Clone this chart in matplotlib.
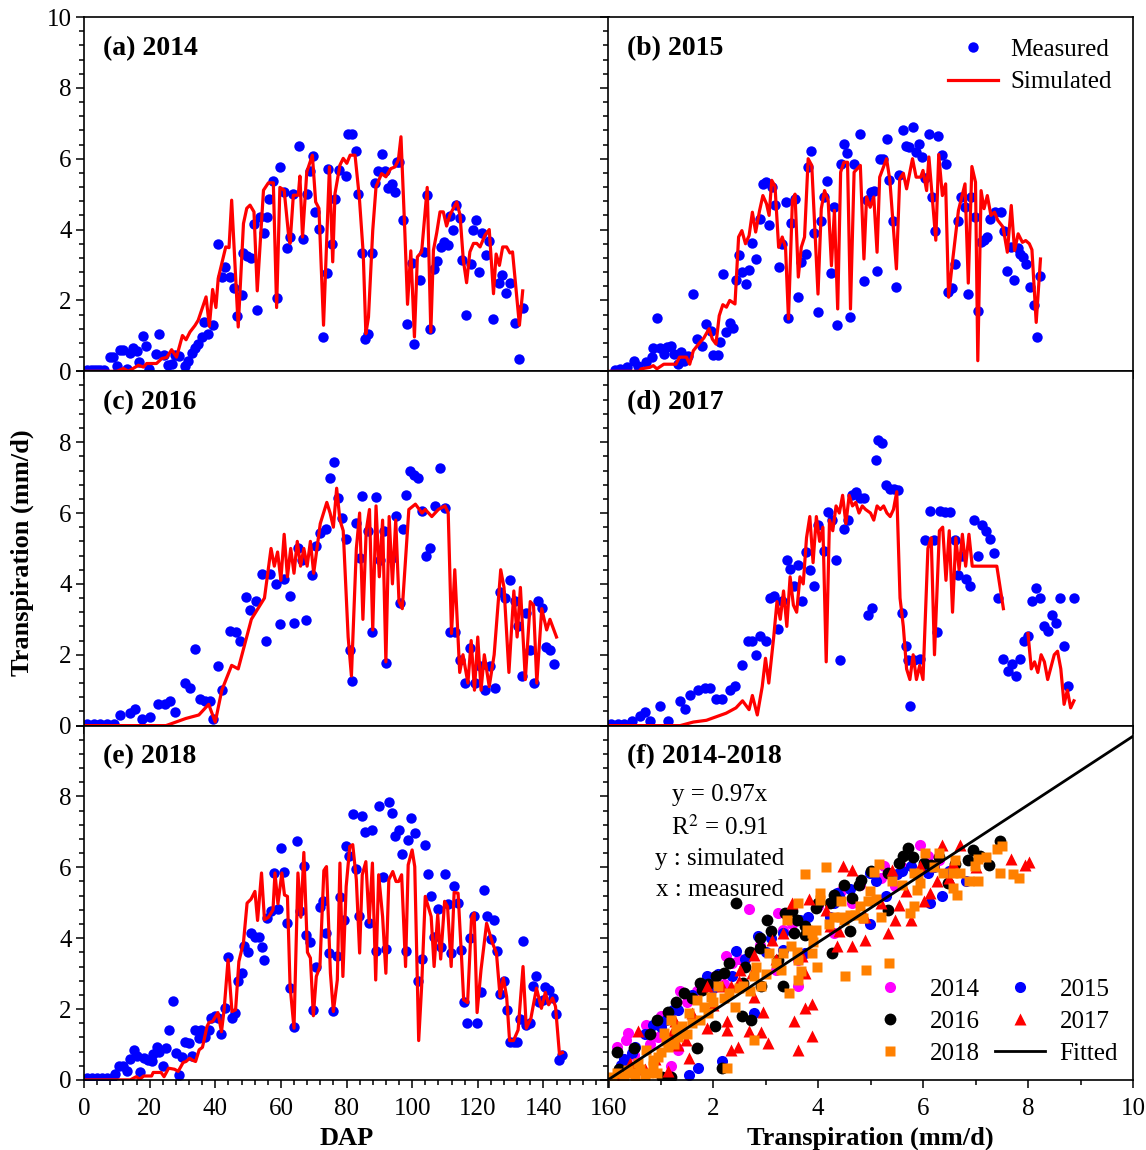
import numpy as np
import matplotlib
matplotlib.use('Agg')
import matplotlib.pyplot as plt
from matplotlib.ticker import MultipleLocator

plt.rcParams['font.family'] = ['Liberation Serif', 'DejaVu Serif']
plt.rcParams['mathtext.fontset'] = 'stix'

# === Data: (DAP, transpiration mm/d) ===
meas_2014 = [(1,0.05),(2,0.05),(3,0.05),(4,0.05),(5,0.05),(6,0.05),(7.9,0.4),(8.9,0.4),(10,0.14),(11,0.59),
             (12,0.59),(13,0.07),(14,0.53),(15,0.67),(16.1,0.57),(16.9,0.25),(17.9,0.99),(18.9,0.7),(19.9,0.07),
             (21.9,0.5),(23,1.06),(24.5,0.45),(25.7,0.19),(26.7,0.22),(27.7,0.47),(29,0.42),(30.8,0.14),(31.8,0.3),
             (32.8,0.53),(33.8,0.67),(34.8,0.77),(35.9,0.96),(36.6,1.4),(37.9,1.05),(39.4,1.32),(40.9,3.6),(42,2.65),
             (43,2.93),(44.5,2.65),(45.7,2.35),(46.7,1.57),(48.1,2.15),(48.6,3.35),(49.8,3.25),(50.8,3.2),(51.8,4.15),
             (52.6,1.73),(53.6,4.35),(54.9,3.9),(55.7,4.35),(56.5,4.86),(57.7,5.38),(58.7,2.06),(59.7,5.78),(60.8,5.05),
             (61.8,3.48),(62.8,3.8),(63.8,5.0),(65.6,6.35),(66.8,3.74),(67.9,5.0),(68.9,5.64),(69.9,6.09),(70.4,4.5),
             (71.7,4.03),(72.7,0.98),(74,2.78),(74.5,5.7),(75.5,3.6),(76.5,4.86),(77.8,5.69),(79.9,5.5),(80.6,6.7),
             (81.6,6.7),(82.9,6.22),(83.6,5.0),(84.6,3.35),(85.6,0.91),(86.7,1.05),(87.7,3.35),(88.7,5.32),(89.7,5.64),
             (90.7,6.14),(91.7,5.64),(92.5,5.17),(93.8,5.28),(94.8,5.06),(95.3,5.9),(96.1,5.91),(97.3,4.27),(98.5,1.33),
             (99.9,3.06),(100.7,0.78),(102.4,2.59),(103.7,3.37),(104.4,4.97),(105.5,1.2),(106.8,2.9),(107.7,3.11),
             (108.7,3.5),(109.7,3.65),(110.8,3.56),(111.5,4.38),(112.5,4.0),(113.5,4.69),(114.5,4.34),(115.2,3.15),
             (116.5,1.6),(117.8,3.03),(118.6,3.98),(119.4,4.27),(120.4,2.8),(121.4,3.89),(122.4,3.27),(123.4,3.67),
             (124.6,1.48),(126.5,2.48),(127.5,2.73),(128.5,2.22),(129.9,2.48),(131.2,1.37),(132.5,0.35),(133.7,1.79)]
sim_2014 = [(0,0),(10,0),(12,0.08),(13.5,0),(16.6,0.17),(18.1,0.12),(19.1,0.22),(22.1,0.22),(23.7,0.36),(25.2,0.39),
            (26.7,0.61),(28.2,0.4),(30,1.01),(31.1,0.89),(32.3,1.11),(33.8,1.29),(34.8,1.44),(37.2,2.1),(38.2,1.27),
            (39.2,2.31),(40.2,1.8),(40.9,2.62),(43.2,3.51),(44.2,3.49),(45,4.83),(47,1.25),(48.6,4.17),(49.6,4.6),
            (50.6,4.69),(51.8,4.5),(52.8,2.27),(54.7,5.11),(56.2,5.32),(57.7,5.32),(58.7,1.8),(59.7,5.19),(61,5.11),
            (62.3,3.89),(62.8,3.61),(63.8,4.97),(65.3,4.97),(65.8,5.51),(66.6,3.79),(67.9,5.63),(69.6,6.1),(70.6,4.78),
            (71.6,4.6),(73,1.3),(74.8,5.77),(75.8,3.09),(76.5,5.02),(78,5.82),(79,6.01),(80.1,5.87),(81.1,6.1),
            (82.6,6.1),(83.9,4.92),(85.1,3.32),(85.9,1.06),(86.7,1.53),(88,3.98),(89,5.21),(90.7,5.58),(92,5.49),
            (93.5,5.72),(94.8,5.77),(95.8,5.96),(96.6,6.62),(97.8,3.89),(98.6,1.89),(99.6,3.4),(100.7,0.97),
            (101.6,3.23),(102.9,3.37),(104.6,5.19),(105.7,1.11),(106.5,3.42),(107.5,3.91),(108.5,4.5),(109.5,4.5),
            (110.5,4.1),(111.5,4.41),(113.6,4.78),(114.6,4.41),(115.6,3.14),(116.6,2.5),(117.6,3.37),(118.7,3.61),
            (119.7,3.61),(120.7,3.51),(122.2,3.84),(123.5,4.0),(124.8,2.19),(125.6,3.31),(126.6,2.99),(127.6,3.51),
            (128.8,3.51),(129.8,3.34),(130.6,3.37),(132.7,1.3),(133.7,2.27)]

meas_2015 = [(2.1,0.04),(3.7,0.07),(5.8,0.11),(7.9,0.28),(9,0.16),(11.7,0.25),(13.3,0.4),(13.8,0.66),(14.9,1.51),
             (15.9,0.66),(17,0.49),(18,0.68),(19.1,0.72),(20.2,0.49),(21.2,0.21),(22.1,0.54),(23.3,0.3),(24.4,0.44),
             (26,2.17),(27.1,0.91),(28.6,0.72),(30,1.34),(31.3,1.15),(32,0.47),(33.4,0.47),(34.2,0.82),(35,2.75),
             (36.1,1.1),(37.3,1.36),(38.2,1.22),(39,2.58),(40,3.27),(40.8,2.8),(42,2.47),(43,2.86),(43.9,3.62),
             (45,3.17),(46.2,4.3),(47.2,5.29),(48.1,5.34),(49.1,4.13),(49.9,5.2),(50.9,4.68),(52,2.94),(53.1,3.58),
             (54.1,4.77),(55,1.5),(55.7,4.18),(57,4.87),(58,2.09),(58.9,3.08),(60.2,3.3),(60.8,5.78),(61.9,6.23),
             (62.9,3.91),(64,1.67),(64.9,4.24),(65.8,4.92),(66.8,5.37),(67.9,2.77),(69,4.63),(69.8,1.32),(70.9,5.84),
             (71.8,6.42),(72.9,6.16),(73.9,1.54),(75,5.84),(76.7,6.7),(78,2.54),(79,4.84),(80.2,5.06),(81.2,5.08),
             (81.9,2.82),(82.8,6.0),(83.8,6.0),(84.9,6.56),(85.7,5.39),(86.8,4.24),(87.9,2.37),(88.6,5.53),(89.9,6.82),
             (90.7,6.37),(91.8,6.33),(92.8,6.89),(93.9,6.19),(94.7,6.42),(95.8,6.06),(96.5,5.46),(97.8,6.7),(98.7,4.93),
             (99.7,3.95),(100.6,6.63),(101.9,6.11),(102.9,5.86),(103.7,2.23),(104.8,2.35),(105.9,3.03),(106.8,4.24),
             (107.7,4.93),(108.8,4.63),(109.8,2.17),(110.6,4.92),(111.7,4.35),(112.7,1.69),(113.7,3.64),(114.6,3.71),
             (115.6,3.79),(116.5,4.3),(117.8,4.49),(119.7,4.49),(120.7,3.95),(121.7,2.82),(122.9,3.5),(123.8,2.58),
             (125,3.48),(125.7,3.3),(126.6,3.22),(127.5,3.03),(128.6,2.37),(129.7,1.86),(130.7,0.98),(131.8,2.7)]
sim_2015 = [(0,0),(9.5,0),(10.1,0.07),(12.7,0.11),(13.8,0.16),(14.9,0.07),(17,0.2),(20.7,0.2),(21.8,0.4),(23.9,0.4),
            (24.9,0.2),(26,0.58),(27.6,0.77),(29.2,0.94),(30.8,1.2),(31.8,0.91),(32.9,0.77),(33.9,1.57),(35,1.88),
            (36.1,1.81),(37.1,2.0),(38.7,1.9),(39.8,3.79),(40.8,3.97),(41.9,3.6),(43,3.83),(44,4.49),(45,3.93),
            (46.2,4.54),(47.2,4.96),(48.3,4.73),(49.1,4.4),(49.9,5.39),(50.9,5.22),(52,3.5),(53.1,3.79),(54.1,3.5),
            (55,1.48),(56.2,4.82),(57,5.0),(58,2.66),(58.9,3.5),(59.9,3.79),(61,6.0),(62.1,5.81),(64,2.18),(65,4.59),
            (66,5.1),(67.1,4.82),(68.1,2.98),(69,4.54),(70,1.76),(70.9,5.62),(71.9,5.9),(73,5.9),(73.9,1.76),(75,5.62),
            (76.9,5.81),(78,3.17),(78.8,4.92),(79.9,4.63),(81,4.92),(82,3.36),(82.8,5.48),(84.9,6.0),(85.9,5.39),
            (87.9,2.89),(88.9,5.43),(90,5.59),(91,5.15),(92.8,6.0),(93.9,5.48),(95.3,5.48),(96,5.67),(97.1,5.1),
            (97.8,6.05),(99.9,3.7),(100.8,6.12),(101.9,4.96),(102.9,5.29),(103.8,2.09),(104.8,2.94),(106.8,4.54),
            (108.8,5.29),(109.8,2.49),(110.9,5.78),(112,5.34),(112.7,0.3),(113.7,5.1),(114.6,4.59),(115.6,4.96),
            (116.7,4.4),(117.8,4.49),(118.8,4.26),(120.4,4.07),(121.7,3.36),(122.9,4.68),(123.9,3.41),(125,3.88),
            (126.3,3.64),(127.3,3.69),(128.4,3.6),(129.2,3.43),(130.5,1.38),(131.8,3.17)]

meas_2016 = [(1,0.05),(3,0.05),(5,0.05),(7,0.05),(9,0.05),(11,0.3),(14,0.36),(15.5,0.48),(17.7,0.2),(20.1,0.25),
             (22.6,0.62),(24.7,0.62),(26.2,0.7),(27.8,0.38),(30.8,1.2),(32.3,1.05),(33.8,2.17),(35.4,0.76),(36.9,0.7),
             (38.4,0.7),(39.3,0.2),(40.8,1.67),(42.1,1.0),(44.5,2.68),(46.3,2.63),(47.5,2.4),(49.4,3.62),(50.6,3.25),
             (52.4,3.53),(54.3,4.29),(55.5,2.4),(56.7,4.29),(58.5,4.0),(59.7,2.88),(61,4.15),(62.8,3.67),(64,2.9),
             (65.2,5.0),(66.4,4.66),(67.7,2.97),(69.5,4.24),(70.7,5.06),(71.9,5.45),(73.8,5.56),(75,6.98),(76.2,7.43),
             (77.4,6.41),(78.6,5.85),(79.9,5.28),(81.1,2.12),(81.7,1.27),(82.9,5.73),(84.1,4.72),(84.7,6.47),(86.6,5.5),
             (87.8,2.63),(89,6.44),(90.2,4.66),(91.4,5.5),(92.1,1.78),(93.9,4.72),(95.1,5.93),(96.3,3.45),(97.2,5.56),
             (98.1,6.5),(99.4,7.2),(100.6,7.06),(101.8,6.98),(103,6.07),(104.2,4.8),(105.5,5.0),(107,6.21),(108.5,7.26),
             (110,6.13),(111.5,2.63),(113,2.63),(114.6,1.84),(116.1,1.19),(117.6,2.18),(119.2,1.21),(120.7,1.69),
             (122.2,1.0),(123.7,1.69),(125.3,1.05),(126.8,3.76),(128.3,3.59),(129.8,4.1),(131.4,3.53),(132.3,2.82),
             (133.5,1.41),(134.7,3.19),(136,2.12),(137.2,1.19),(138.4,3.53),(139.6,3.31),(140.8,2.23),(142,2.12),
             (143.2,1.75)]
sim_2016 = [(0,0),(25,0),(28,0.1),(31,0.2),(35,0.3),(38,0.6),(40,0.1),(42,1.0),(45,1.7),(47,1.6),(49,2.3),(51,3.0),
            (53,3.3),(55,3.6),(57,5.0),(58,4.5),(59,4.9),(60,4.1),(61,5.4),(62,4.2),(63,5.0),(64,4.3),(65,5.2),
            (66,4.5),(67,5.0),(68,4.5),(69,5.2),(70,4.3),(72,5.7),(74,6.3),(75,6.0),(76,5.6),(77,6.7),(78,5.8),
            (79,5.5),(80.5,2.5),(81.5,1.4),(83,5.0),(84,6.0),(85,3.0),(86,5.5),(87,6.1),(88,2.7),(89,6.2),(90,4.2),
            (91,5.8),(92,1.8),(93,5.9),(94,4.0),(95,5.8),(96,3.5),(97,3.3),(99,6.1),(101,6.25),(103,6.0),(104,6.1),
            (106,5.9),(108,6.1),(110,6.2),(111,6.0),(112,2.6),(113,4.4),(114.5,1.5),(115.5,2.0),(117,1.2),(118,2.4),
            (119,1.0),(120,2.5),(121,1.0),(122,2.0),(123.5,1.1),(125,2.0),(127,4.4),(128,3.9),(129.5,1.5),(131,3.8),
            (132,2.5),(133,3.9),(134.5,1.3),(136,3.5),(137,3.4),(138,1.2),(139.5,3.3),(141,2.7),(142,3.0),(144,2.5)]

meas_2017 = [(1,0.05),(3,0.05),(5,0.05),(7.3,0.14),(9.8,0.28),(11.3,0.37),(12.8,0.14),(15.8,0.54),(18.3,0.14),
             (21.9,0.7),(23.5,0.48),(25,0.85),(27.4,1.0),(29.6,1.05),(31.1,1.05),(32.9,0.76),(34.7,0.76),(37.2,1.0),
             (38.7,1.13),(40.8,1.7),(42.7,2.4),(43.9,2.4),(45.1,1.98),(46.3,2.54),(48.2,2.4),(49.4,3.6),(50.6,3.67),
             (51.8,2.74),(53,3.53),(54.6,4.66),(55.5,4.43),(56.7,3.95),(57.9,4.52),(59.1,3.53),(60.3,4.89),(61.6,4.38),
             (62.8,3.95),(64,5.65),(65.8,4.94),(67.1,6.02),(68.3,5.79),(69.5,4.66),(70.7,1.84),(71.9,5.56),(73.1,5.79),
             (74.4,6.5),(75.6,6.58),(76.8,6.41),(78,6.41),(79.2,3.11),(80.5,3.31),(81.7,7.49),(82.3,8.05),(83.5,7.97),
             (84.7,6.78),(86,6.69),(87.2,6.69),(88.4,6.64),(89.6,3.19),(90.8,2.26),(91.4,1.84),(92,0.56),(93.3,1.84),
             (95.1,1.89),(96.6,5.23),(98.1,6.07),(99.4,5.23),(100.3,2.63),(101.2,6.07),(102.7,6.02),(104.2,6.02),
             (105.8,5.23),(106.7,4.24),(107.9,4.8),(109.1,4.15),(110.3,3.95),(111.6,5.79),(112.8,4.8),(114,5.65),
             (115.2,5.5),(116.4,5.28),(117.6,4.86),(118.9,3.59),(120.4,1.89),(121.9,1.55),(123.1,1.75),(124.4,1.41),
             (125.6,1.89),(126.8,2.4),(128,2.54),(129.2,3.53),(130.5,3.87),(131.7,3.59),(132.9,2.82),(134.1,2.68),
             (135.3,3.11),(136.5,2.9),(137.8,3.59),(139,2.26),(140.2,1.13),(142,3.59)]
sim_2017 = [(0,0),(22,0),(26,0.1),(30,0.15),(33,0.25),(36,0.35),(39,0.5),(41,0.7),(43,0.45),(44,0.85),(45.5,0.3),
            (47,1.1),(48,1.9),(49,1.2),(50.5,2.5),(51.5,3.5),(52.5,3.0),(53.5,3.8),(54.5,2.8),(55.5,4.2),(56.5,3.4),
            (57.5,3.2),(58.5,4.2),(59.5,4.0),(60.5,5.3),(61.5,5.9),(62.5,4.6),(63.5,5.9),(64.5,5.2),(65.5,5.6),
            (66.5,1.8),(67.5,5.8),(68.5,5.5),(69.5,6.2),(70.5,6.0),(71.5,6.5),(72.5,5.7),(73.5,6.5),(74.5,6.2),
            (75.5,6.3),(76.5,6.0),(77.5,6.2),(78.5,6.1),(80,6.0),(81,5.8),(82,6.2),(83,6.1),(84,6.2),(85,6.0),
            (86,5.9),(87,6.1),(88,6.6),(89,3.6),(90,2.8),(91,1.6),(92,1.3),(93,2.0),(94,1.3),(95,1.7),(96,1.3),
            (97.5,5.0),(98.5,5.3),(99.5,2.0),(101,5.5),(102,5.6),(103,4.1),(104,5.5),(105,3.2),(106,5.3),(107,4.4),
            (108,5.4),(109,4.5),(110,5.4),(111,4.5),(118.5,4.5),(120.5,3.3),(np.nan,np.nan),(128,2.6),(129,1.6),
            (130,1.8),(131,1.5),(132,2.0),(133,1.8),(134,1.3),(136,2.0),(137,2.1),(138,1.6),(139,0.6),(140,1.0),
            (141,0.5),(142,0.7)]

meas_2018 = [(1,0.05),(2.5,0.05),(4,0.05),(5.5,0.05),(7,0.05),(8.5,0.05),(9.5,0.17),(10.6,0.38),(11.8,0.4),(13,0.26),
             (14.1,0.58),(15.1,0.85),(16,0.68),(17,0.21),(18.2,0.61),(19.4,0.55),(20.6,0.52),(21.1,0.73),(22.1,0.92),
             (22.9,0.8),(24.1,0.38),(25,0.89),(25.9,1.41),(27,2.24),(27.9,0.77),(29,0.14),(29.9,0.66),(30.8,1.08),
             (31.9,1.04),(32.8,0.68),(33.7,1.41),(34.9,1.18),(35.8,1.41),(36.9,1.2),(38.1,1.41),(38.6,1.74),(39.8,1.79),
             (40.8,1.74),(41.9,1.3),(43,2.02),(43.9,3.46),(45.1,1.74),(46,1.9),(46.9,2.8),(48,3.03),(48.9,3.78),(50,3.6),
             (50.9,4.14),(52.1,4.03),(53.2,4.03),(54.1,3.75),(55,3.39),(55.9,4.56),(56.9,4.78),(57.9,5.84),(59.1,4.82),
             (60,6.54),(61,5.88),(61.8,4.44),(62.8,2.59),(63.9,1.48),(64.9,6.73),(65.9,4.78),(66.9,6.04),(67.8,4.08),
             (69,3.88),(69.9,1.98),(70.8,3.2),(71.9,4.89),(72.9,5.05),(73.9,4.16),(74.8,3.58),(76,1.95),(77,3.5),
             (78,5.16),(79.1,4.52),(79.9,6.59),(80.7,6.32),(81.9,7.51),(82.8,5.95),(83.8,4.63),(84.8,7.44),(85.7,7.0),
             (86.8,4.42),(87.9,7.06),(88.9,3.65),(89.8,7.74),(91,5.72),(92,3.69),(92.9,7.83),(93.8,7.53),(94.7,6.87),
             (95.9,7.06),(96.8,6.38),(98,3.65),(98.8,6.76),(99.7,7.39),(100.8,6.96),(101.7,2.78),(102.9,3.41),
             (103.8,6.64),(104.9,5.82),(105.8,5.18),(106.7,4.03),(107.8,4.82),(108.7,3.76),(109.9,5.82),(110.8,4.96),
             (111.9,3.58),(112.8,5.46),(114,4.99),(114.9,3.67),(115.7,2.21),(116.6,1.62),(117.7,4.0),(118.8,4.63),
             (119.8,1.6),(121,2.47),(121.8,5.35),(122.7,4.63),(123.9,3.97),(124.8,4.5),(125.9,3.65),(126.8,2.43),
             (128,2.78),(128.9,1.96),(129.7,1.08),(130.9,1.08),(132.1,1.08),(132.9,1.71),(133.8,3.93),(134.8,1.55),
             (136,1.62),(136.7,2.65),(137.9,2.92),(138.8,2.21),(139.8,2.26),(140.6,2.62),(141.8,2.54),(142.8,2.31),
             (143.7,1.86),(144.7,0.55),(145.8,0.71)]
sim_2018 = [(0,0),(14.1,0),(15.9,0.09),(17,0.02),(18.2,0.11),(20.6,0.11),(21.1,0.21),(23.5,0.21),(24.4,0.09),
            (25.8,0.33),(27.6,0.3),(28.7,0.24),(30.2,0.49),(31.1,0.52),(32.2,0.61),(33.2,0.55),(34,0.52),(35.1,0.85),
            (36.1,0.92),(37.5,1.51),(38.1,1.62),(39.2,1.65),(40.8,1.9),(41.9,1.36),(42.7,1.98),(43.9,3.39),(45.1,1.93),
            (46.2,1.98),(47.2,3.34),(48.6,3.88),(49.7,4.99),(50.9,5.1),(52.1,5.32),(52.9,4.5),(54.1,5.84),(55,4.52),
            (56.2,4.59),(57.6,4.8),(58.2,5.84),(59.1,4.97),(60.3,5.84),(61.1,5.22),(62,5.18),(62.8,2.65),(64,1.46),
            (65.2,5.84),(66.1,4.59),(67,6.42),(68.1,3.6),(69,3.44),(69.9,1.81),(70.8,2.92),(71.9,3.2),(73.1,5.91),
            (73.9,6.02),(75.1,3.01),(76,1.93),(77.2,2.82),(78,6.12),(78.9,2.92),(79.9,5.46),(81,6.59),(81.9,6.64),
            (83,5.65),(84,3.58),(84.8,5.79),(85.9,6.16),(86.9,4.44),(87.9,6.12),(88.9,2.82),(89.8,5.79),(91,4.61),
            (92,3.01),(92.9,5.65),(94.1,5.88),(95.1,5.6),(95.9,5.6),(96.8,5.79),(98,3.2),(98.8,6.07),(100,6.49),
            (100.8,6.02),(102,1.11),(102.9,2.64),(104,5.18),(105.8,4.61),(106.7,3.2),(107.8,4.66),(108.7,3.41),
            (109.9,5.04),(110.8,4.89),(111.9,3.2),(112.8,5.29),(114,5.27),(115.1,3.39),(115.7,2.26),(116.9,2.18),
            (118.1,4.56),(118.9,4.71),(119.8,1.9),(121,3.11),(122.7,4.42),(124.5,3.86),(125.7,3.58),(126.8,2.35),
            (127.8,2.87),(128.8,2.35),(129.7,1.11),(130.9,1.11),(132.3,1.41),(133.8,3.2),(134.8,1.46),(136.2,1.74),
            (137.9,2.59),(139.4,2.02),(140.6,2.47),(141.6,2.12),(142.8,2.31),(143.7,2.07),(144.9,0.73),(145.8,0.77)]

# panel f: (measured, simulated) pairs
f_2014 = [(5.94,6.64),(6.09,6.31),(5.2,5.7),(5.26,6.03),(4.44,5.32),(4.3,4.14),(2.68,4.82),(3.23,4.71),(3.34,4.24),
          (2.24,3.5),(2.37,3.3),(3.61,2.64),(3.2,3.11),(1.38,2.5),(0.72,1.55),(0.38,1.32),(0.34,1.13),(0.17,0.94),
          (0.96,1.22),(1.34,0.85),(1.2,0.38),(3.61,3.39),(4.65,4.99),(5.47,5.46),(1.0,1.8),(1.5,2.2),(2.0,2.9),
          (2.5,3.4),(2.9,3.8),(3.5,4.4),(4.0,4.9),(4.8,5.5),(5.6,6.0),(6.3,6.2),(0.5,0.7),(0.8,1.0),(1.7,2.5),(2.2,2.7)]
f_2015 = [(5.78,6.03),(6.09,5.84),(6.37,5.2),(6.13,4.99),(6.81,5.6),(4.99,4.41),(4.99,5.84),(4.37,5.27),(4.23,4.61),
          (3.65,4.52),(3.34,3.67),(2.44,3.63),(2.86,4.05),(1.89,2.92),(2.37,2.92),(1.34,1.98),(1.24,1.98),(0.86,1.55),
          (0.52,0.94),(0.45,0.75),(0.24,0.42),(1.55,0.14),(1.72,0.33),(2.17,0.52),(2.79,1.88),(3.75,3.58),(3.34,4.14),
          (4.3,4.99),(5.5,5.8),(4.6,5.4),(3.0,3.6),(2.0,2.6),(1.0,1.5),(5.3,5.2),(6.5,5.9),(0.3,0.6),(0.7,1.3),
          (1.1,1.7),(1.6,2.4),(2.1,3.0),(2.6,3.4),(3.1,4.0),(3.8,4.6),(4.4,5.2),(5.1,5.6),(5.6,5.9),(6.2,6.0)]
f_2016 = [(7.47,6.73),(6.95,6.5),(7.26,6.07),(7.09,6.31),(6.85,6.21),(5.71,6.54),(5.61,6.31),(5.54,6.12),(6.02,6.12),
          (6.16,6.07),(6.47,5.56),(5.33,5.84),(4.78,5.51),(4.82,5.65),(4.65,5.13),(4.3,5.23),(4.23,4.99),(3.96,4.85),
          (3.75,4.1),(3.54,4.14),(3.75,4.33),(3.37,4.71),(3.51,4.76),(3.03,4.52),(2.43,4.99),(2.89,4.0),(2.89,3.72),
          (3.23,3.39),(3.34,2.64),(2.92,2.64),(2.6,3.2),(2.58,2.73),(2.2,3.01),(2.06,2.92),(1.76,2.73),(1.79,2.54),
          (1.45,2.45),(1.14,1.93),(0.93,1.69),(2.55,1.79),(2.72,1.69),(2.03,1.51),(1.69,0.89),(0.17,0.8),(1.03,0.09),
          (1.2,0.09),(2.17,0.33),(4.61,4.19),(5.33,4.8),(4.27,3.58),(4.37,5.08),(0.2,0.3),(0.5,0.9),(0.8,1.3),
          (1.3,2.2),(1.6,2.3),(1.9,2.7),(2.3,3.3),(2.7,3.6),(3.1,4.2),(3.6,4.5),(4.0,5.0),(4.5,5.5),(5.0,5.9),
          (5.8,6.3),(6.3,6.3),(6.6,6.1)]
f_2017 = [(6.37,6.64),(6.71,6.64),(7.67,6.23),(8.02,6.14),(7.94,6.07),(4.47,6.03),(4.65,5.93),(5.4,5.93),(5.95,6.03),
          (6.13,5.27),(6.02,5.04),(6.26,5.6),(6.57,6.12),(5.68,5.32),(5.54,4.94),(5.47,4.52),(5.78,4.52),(5.33,4.14),
          (4.89,3.95),(4.65,3.77),(4.37,3.77),(4.23,4.33),(3.82,5.1),(3.51,4.99),(4.16,4.8),(3.34,4.14),(3.13,3.95),
          (2.79,3.53),(2.51,3.11),(2.75,3.01),(3.75,3.01),(2.96,1.93),(2.79,2.35),(2.34,2.64),(2.17,2.64),(1.89,2.64),
          (1.89,1.46),(2.27,1.65),(2.27,1.41),(2.68,1.37),(2.92,1.34),(3.05,1.04),(2.34,0.85),(2.48,0.94),(3.54,1.65),
          (3.75,2.02),(3.89,2.15),(3.89,1.24),(3.61,0.85),(1.14,0.26),(1.27,1.65),(1.48,1.13),(1.55,0.61),(0.58,1.37),
          (0.41,0.47),(1.34,0.99),(0.2,0.1),(0.7,0.3),(0.9,0.6),(1.2,1.3),(1.6,1.9),(2.0,2.1),(2.5,2.8),(3.2,3.4),
          (3.7,3.5),(4.4,4.2),(4.9,4.6),(5.2,5.0),(6.5,5.7),(7.0,6.0)]
f_2018 = [(3.75,5.82),(4.16,6.0),(6.04,6.4),(6.31,6.4),(7.4,6.52),(7.5,6.59),(7.05,6.23),(6.99,6.03),(7.47,5.84),
          (7.71,5.82),(7.83,5.7),(7.04,5.6),(6.88,5.6),(6.64,5.23),(6.57,5.41),(6.39,5.84),(6.57,5.84),(6.71,5.84),
          (5.82,5.84),(5.88,5.37),(5.95,5.57),(5.82,4.9),(5.75,4.7),(5.16,6.1),(5.06,5.88),(4.99,5.32),(4.96,5.04),
          (5.2,4.61),(4.85,4.57),(4.71,4.66),(4.61,4.66),(4.44,4.61),(4.3,4.61),(4.03,5.27),(3.61,4.99),(3.41,4.52),
          (3.79,4.24),(3.96,4.24),(3.89,4.14),(3.99,3.2),(3.61,3.39),(3.48,3.77),(3.34,3.58),(3.61,2.82),(3.68,3.06),
          (3.44,2.45),(3.06,3.58),(2.82,3.2),(2.92,2.64),(2.79,2.92),(2.58,2.64),(2.31,2.45),(2.41,2.07),(2.1,2.64),
          (1.96,2.35),(1.82,2.07),(1.69,2.26),(1.55,1.88),(1.41,1.51),(1.34,1.22),(1.2,1.69),(1.14,0.94),(1.07,1.32),
          (0.96,0.66),(0.86,0.38),(0.72,0.85),(0.58,0.47),(0.38,0.28),(0.17,0.19),(0.07,0.09),(0.52,0.09),(0.76,0.19),
          (0.93,0.19),(2.26,0.33),(2.79,1.13),(4.51,2.92),(4.91,3.11),(5.35,3.3),(4.03,5.08),(4.44,5.04),(3.89,3.58),
          (0.3,0.1),(0.45,0.2),(0.6,0.3),(0.7,0.15),(0.85,0.55),(1.0,0.8),(1.1,1.1),(1.25,1.0),(1.3,1.45),(1.5,1.3),
          (1.6,1.6),(1.75,1.7),(1.9,1.9),(2.0,2.2),(2.2,2.3),(2.5,2.6),(2.7,2.5),(3.0,3.0),(3.2,3.3),(3.3,3.1),
          (3.6,3.6),(3.9,3.9),(4.2,4.4),(4.5,4.5),(4.8,4.9),(5.1,5.1),(5.4,5.6),(5.6,5.5),(5.9,5.8),(6.2,6.0),
          (6.6,6.2),(7.2,6.3)]
fit_slope = 0.97

years = ['2014', '2015', '2016', '2017', '2018']
panel_tags = ['(a)', '(b)', '(c)', '(d)', '(e)']
meas_all = [meas_2014, meas_2015, meas_2016, meas_2017, meas_2018]
sim_all = [sim_2014, sim_2015, sim_2016, sim_2017, sim_2018]

# === Layout ===
W, H = 1146, 1150
fig = plt.figure(figsize=(W / 100, H / 100), dpi=100)
col_x = [84, 608]
ax_w, ax_h, top0 = 525, 354.3, 17
TICK_FS, TITLE_FS, LABEL_FS, LEG_FS = 18, 20, 19, 18

def make_ax(row, col):
    top = top0 + row * ax_h
    return fig.add_axes([col_x[col] / W, 1 - (top + ax_h) / H, ax_w / W, ax_h / H])

def style(ax, xmaj, xmin):
    ax.set_ylim(0, 10)
    ax.xaxis.set_major_locator(MultipleLocator(xmaj))
    ax.xaxis.set_minor_locator(MultipleLocator(xmin))
    ax.yaxis.set_major_locator(MultipleLocator(2))
    ax.yaxis.set_minor_locator(MultipleLocator(0.4))
    ax.tick_params(which='both', direction='out', width=1.1, labelsize=TICK_FS)
    ax.tick_params(axis='x', pad=7)
    ax.tick_params(axis='y', pad=3)
    ax.tick_params(which='major', length=6)
    ax.tick_params(which='minor', length=3.5)
    for s in ax.spines.values():
        s.set_linewidth(1.2)

for i in range(5):
    row, col = i // 2, i % 2
    ax = make_ax(row, col)
    m = np.array(meas_all[i])
    s = np.array(sim_all[i])
    ax.plot(m[:, 0], m[:, 1], 'o', color='#0000FF', ms=7.5, mec='none', label='Measured')
    ax.plot(s[:, 0], s[:, 1], '-', color='#FF0000', lw=2.3, label='Simulated')
    ax.set_xlim(0, 160)
    style(ax, 20, 4)
    ax.text(0.037, 0.912, f'{panel_tags[i]} {years[i]}', transform=ax.transAxes,
            fontsize=TITLE_FS, fontweight='bold', ha='left', va='center')
    if col == 0:
        ticks = [0, 2, 4, 6, 8, 10]
        ax.set_yticks(ticks)
        ax.set_yticklabels([str(t) if (t != 10 or row == 0) else '' for t in ticks])
    else:
        ax.tick_params(labelleft=False)
    if row == 2:
        ax.set_xticks(range(0, 161, 20))
        ax.set_xlabel('DAP', fontsize=LABEL_FS, fontweight='bold', labelpad=5)
    else:
        ax.tick_params(labelbottom=False)
    if i == 1:
        ax.legend(loc='upper right', frameon=False, fontsize=LEG_FS, handlelength=2.0,
                  handletextpad=0.5, labelspacing=0.4, borderaxespad=0.45, numpoints=1)

# panel f
axf = make_ax(2, 1)
f_colors = ['#FF00FF', '#0000FF', '#000000', '#FF0000', '#FF8000']
f_markers = ['o', 'o', 'o', '^', 's']
f_sizes = [8, 8, 8.5, 8, 7.5]
handles = {}
for yr, pts, c, mk, ms in zip(years, [f_2014, f_2015, f_2016, f_2017, f_2018], f_colors, f_markers, f_sizes):
    p = np.array(pts)
    h, = axf.plot(p[:, 0], p[:, 1], mk, color=c, ms=ms, mec='none', label=yr)
    handles[yr] = h
xf = np.array([0, 10])
hfit, = axf.plot(xf, fit_slope * xf, '-', color='black', lw=2, label='Fitted')
axf.set_xlim(0, 10)
style(axf, 2, 1)
axf.set_xticks([0, 2, 4, 6, 8, 10])
axf.set_xticklabels(['', '2', '4', '6', '8', '10'])
axf.tick_params(labelleft=False)
axf.set_xlabel('Transpiration (mm/d)', fontsize=LABEL_FS, fontweight='bold', labelpad=5)
axf.text(0.037, 0.912, '(f) 2014-2018', transform=axf.transAxes,
         fontsize=TITLE_FS, fontweight='bold', ha='left', va='center')
for ty, txt in zip([0.805, 0.712, 0.624, 0.537],
                   ['y = 0.97x', 'R$^2$ = 0.91', 'y : simulated', 'x : measured']):
    axf.text(0.213, ty, txt, transform=axf.transAxes, fontsize=LEG_FS, ha='center', va='center')
order = [handles['2014'], handles['2016'], handles['2018'], handles['2015'], handles['2017'], hfit]
axf.legend(handles=order, labels=[h.get_label() for h in order], loc='lower right', ncol=2,
           frameon=False, fontsize=LEG_FS, handlelength=2.0, handletextpad=0.6, columnspacing=0.6,
           labelspacing=0.38, borderaxespad=0.2, numpoints=1)

fig.text(22 / W, 1 - 553 / H, 'Transpiration (mm/d)', rotation=90, fontsize=LABEL_FS,
         fontweight='bold', ha='center', va='center')

fig.savefig('out.png', dpi=100)
